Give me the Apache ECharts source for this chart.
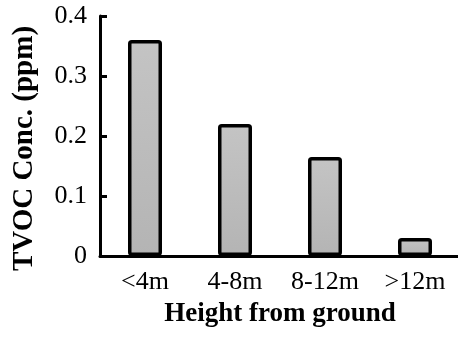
<!DOCTYPE html>
<html>
<head>
<meta charset="utf-8">
<script src="https://cdn.jsdelivr.net/npm/echarts@6/dist/echarts.min.js"></script>
<style>
  html, body { margin: 0; padding: 0; background: #fff; }
  #chart { width: 458px; height: 337px; }
</style>
</head>
<body>
<div id="chart"></div>
<script>
// TVOC concentration by height band
const categories = ['<4m', '4-8m', '8-12m', '>12m'];
const tvocValues = [0.36, 0.22, 0.165, 0.03];
const yTicks = [0, 0.1, 0.2, 0.3, 0.4];

const serif = '"Liberation Serif", "Times New Roman", serif';

const chart = echarts.init(document.getElementById('chart'));
chart.setOption({
  animation: false,
  backgroundColor: '#ffffff',
  grid: { left: 100, top: 16, width: 360, bottom: 81, containLabel: false, outerBoundsMode: 'none' },
  xAxis: {
    type: 'category',
    data: categories,
    name: 'Height from ground',
    nameLocation: 'middle',
    nameGap: 45,
    nameTextStyle: { fontFamily: serif, fontWeight: 'bold', fontSize: 27, color: '#000' },
    axisLine: { lineStyle: { color: '#000', width: 3 } },
    axisTick: { show: false },
    axisLabel: { fontFamily: serif, fontSize: 26, color: '#000', margin: 13 }
  },
  yAxis: {
    type: 'value',
    min: yTicks[0],
    max: yTicks[yTicks.length - 1],
    interval: 0.1,
    name: 'TVOC Conc. (ppm)',
    nameLocation: 'middle',
    nameGap: 61,
    nameTextStyle: { fontFamily: serif, fontWeight: 'bold', fontSize: 29, color: '#000', padding: [0, 25, 0, 0] },
    axisLine: { show: true, lineStyle: { color: '#000', width: 3 } },
    axisTick: { show: true, inside: true, length: 7, lineStyle: { color: '#000', width: 3 } },
    splitLine: { show: false },
    axisLabel: { fontFamily: serif, fontSize: 26, color: '#000', margin: 13 }
  },
  series: [{
    type: 'bar',
    data: tvocValues,
    barWidth: 34,
    itemStyle: {
      color: new echarts.graphic.LinearGradient(0, 0, 0, 1, [
        { offset: 0, color: '#c4c4c4' },
        { offset: 1, color: '#b4b4b4' }
      ]),
      borderColor: '#000',
      borderWidth: 3.5,
      borderRadius: 2
    }
  }]
});
</script>
</body>
</html>
